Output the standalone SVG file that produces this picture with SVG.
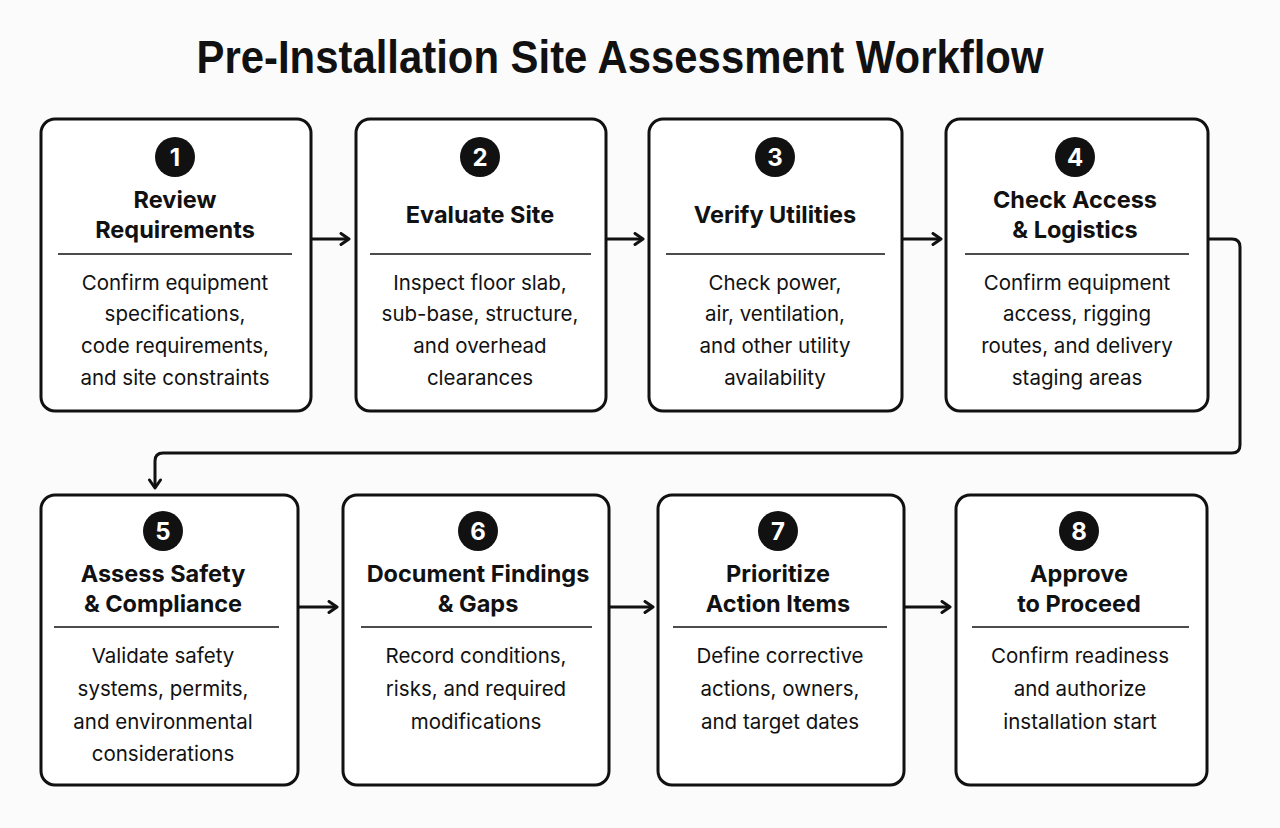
<svg xmlns="http://www.w3.org/2000/svg" width="1280" height="828" viewBox="0 0 1280 828">
<defs>
<marker id="ah" viewBox="0 0 14 14" refX="11" refY="7" markerWidth="14" markerHeight="14" markerUnits="userSpaceOnUse" orient="auto">
<path d="M3,1.5 L11,7 L3,12.5" fill="none" stroke="#111" stroke-width="3" stroke-linecap="round" stroke-linejoin="round"/>
</marker>
<style>
.box{fill:#fff;stroke:#111;stroke-width:3}
.num{fill:#111}
.numt{fill:#fff;font-family:Inter,"Liberation Sans",sans-serif;font-weight:700;font-size:24px;text-anchor:middle}
.ttl{fill:#111;font-family:Inter,"Liberation Sans",sans-serif;font-weight:700;font-size:23.5px;text-anchor:middle}
.div{stroke:#111;stroke-width:1.6}
.body{fill:#111;font-family:Inter,"Liberation Sans",sans-serif;font-size:20.5px;text-anchor:middle}
.conn{fill:none;stroke:#111;stroke-width:3;stroke-linejoin:round}
</style>
</defs>
<rect width="1280" height="828" fill="#fbfbfb"/>
<text x="620" y="73" font-family="'Liberation Sans',sans-serif" font-weight="700" font-size="46" text-anchor="middle" textLength="847" lengthAdjust="spacingAndGlyphs" fill="#111">Pre-Installation Site Assessment Workflow</text>

<g id="connectors">
<path class="conn" d="M311,239 H349" marker-end="url(#ah)"/>
<path class="conn" d="M606,239 H643" marker-end="url(#ah)"/>
<path class="conn" d="M902,239 H941" marker-end="url(#ah)"/>
<path class="conn" d="M1208,239 H1232 Q1240,239 1240,247 V445 Q1240,453 1232,453 H163 Q155,453 155,461 V488" marker-end="url(#ah)"/>
<path class="conn" d="M298,607 H337" marker-end="url(#ah)"/>
<path class="conn" d="M609,607 H653" marker-end="url(#ah)"/>
<path class="conn" d="M904,607 H950" marker-end="url(#ah)"/>
</g>

<g id="node1">
<rect class="box" x="41" y="119" width="270" height="292" rx="14"/>
<circle class="num" cx="175" cy="157" r="20"/>
<text class="numt" x="175" y="166">1</text>
<text class="ttl" x="175" y="208">Review</text>
<text class="ttl" x="175" y="238">Requirements</text>
<line class="div" x1="58" y1="254" x2="292" y2="254"/>
<text class="body" x="175" y="290">Confirm equipment</text>
<text class="body" x="175" y="321">specifications,</text>
<text class="body" x="175" y="353">code requirements,</text>
<text class="body" x="175" y="385">and site constraints</text>
</g>

<g id="node2">
<rect class="box" x="356" y="119" width="250" height="292" rx="14"/>
<circle class="num" cx="480" cy="157" r="20"/>
<text class="numt" x="480" y="166">2</text>
<text class="ttl" x="480" y="223">Evaluate Site</text>
<line class="div" x1="370" y1="254" x2="591" y2="254"/>
<text class="body" x="480" y="290">Inspect floor slab,</text>
<text class="body" x="480" y="321">sub-base, structure,</text>
<text class="body" x="480" y="353">and overhead</text>
<text class="body" x="480" y="385">clearances</text>
</g>

<g id="node3">
<rect class="box" x="649" y="119" width="253" height="292" rx="14"/>
<circle class="num" cx="775" cy="157" r="20"/>
<text class="numt" x="775" y="166">3</text>
<text class="ttl" x="775" y="223">Verify Utilities</text>
<line class="div" x1="666" y1="254" x2="885" y2="254"/>
<text class="body" x="775" y="290">Check power,</text>
<text class="body" x="775" y="321">air, ventilation,</text>
<text class="body" x="775" y="353">and other utility</text>
<text class="body" x="775" y="385">availability</text>
</g>

<g id="node4">
<rect class="box" x="946" y="119" width="262" height="292" rx="14"/>
<circle class="num" cx="1075" cy="157" r="20"/>
<text class="numt" x="1075" y="166">4</text>
<text class="ttl" x="1075" y="208">Check Access</text>
<text class="ttl" x="1075" y="238">&amp; Logistics</text>
<line class="div" x1="965" y1="254" x2="1189" y2="254"/>
<text class="body" x="1077" y="290">Confirm equipment</text>
<text class="body" x="1077" y="321">access, rigging</text>
<text class="body" x="1077" y="353">routes, and delivery</text>
<text class="body" x="1077" y="385">staging areas</text>
</g>

<g id="node5">
<rect class="box" x="41" y="495" width="257" height="290" rx="14"/>
<circle class="num" cx="163" cy="531" r="20"/>
<text class="numt" x="163" y="540">5</text>
<text class="ttl" x="163" y="582">Assess Safety</text>
<text class="ttl" x="163" y="612">&amp; Compliance</text>
<line class="div" x1="54" y1="627" x2="279" y2="627"/>
<text class="body" x="163" y="663">Validate safety</text>
<text class="body" x="163" y="696">systems, permits,</text>
<text class="body" x="163" y="729">and environmental</text>
<text class="body" x="163" y="761">considerations</text>
</g>

<g id="node6">
<rect class="box" x="343" y="495" width="266" height="290" rx="14"/>
<circle class="num" cx="478" cy="531" r="20"/>
<text class="numt" x="478" y="540">6</text>
<text class="ttl" x="478" y="582">Document Findings</text>
<text class="ttl" x="478" y="612">&amp; Gaps</text>
<line class="div" x1="361" y1="627" x2="592" y2="627"/>
<text class="body" x="476" y="663">Record conditions,</text>
<text class="body" x="476" y="696">risks, and required</text>
<text class="body" x="476" y="729">modifications</text>
</g>

<g id="node7">
<rect class="box" x="658" y="495" width="246" height="290" rx="14"/>
<circle class="num" cx="778" cy="531" r="20"/>
<text class="numt" x="778" y="540">7</text>
<text class="ttl" x="778" y="582">Prioritize</text>
<text class="ttl" x="778" y="612">Action Items</text>
<line class="div" x1="673" y1="627" x2="887" y2="627"/>
<text class="body" x="780" y="663">Define corrective</text>
<text class="body" x="780" y="696">actions, owners,</text>
<text class="body" x="780" y="729">and target dates</text>
</g>

<g id="node8">
<rect class="box" x="956" y="495" width="251" height="290" rx="14"/>
<circle class="num" cx="1079" cy="531" r="20"/>
<text class="numt" x="1079" y="540">8</text>
<text class="ttl" x="1079" y="582">Approve</text>
<text class="ttl" x="1079" y="612">to Proceed</text>
<line class="div" x1="972" y1="627" x2="1189" y2="627"/>
<text class="body" x="1080" y="663">Confirm readiness</text>
<text class="body" x="1080" y="696">and authorize</text>
<text class="body" x="1080" y="729">installation start</text>
</g>
</svg>
